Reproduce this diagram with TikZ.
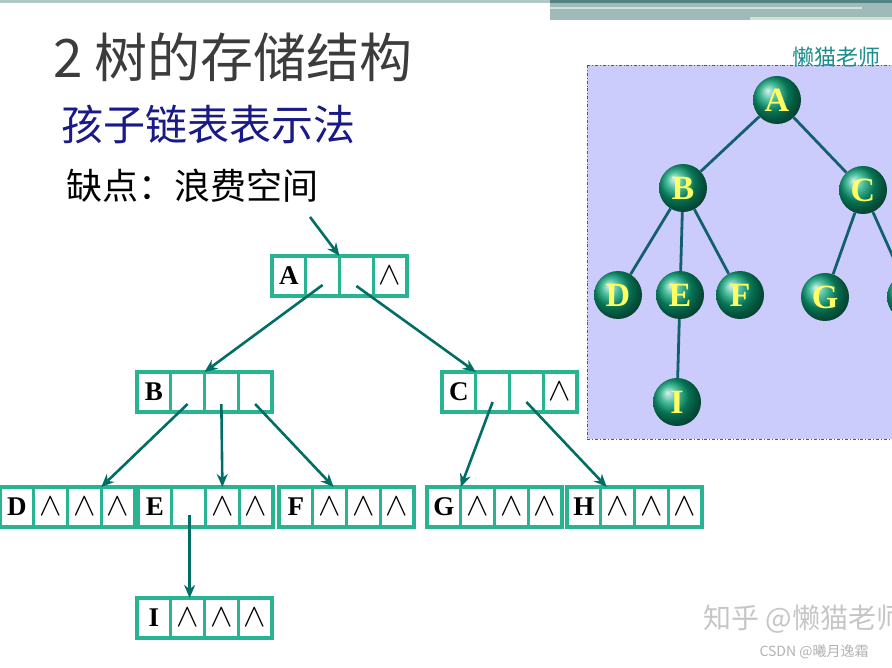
\documentclass[tikz,border=0pt]{standalone}
\usepackage{fontspec}
\setmainfont{Liberation Serif}
\newfontfamily\cjk{Noto Sans CJK SC}
\usepackage{xcolor}
\usepackage{tikz}
\usetikzlibrary{positioning,calc,arrows.meta,shadings}
\definecolor{cellgreen}{RGB}{40, 180, 145}
\definecolor{arrowteal}{RGB}{0, 110, 100}
\definecolor{edgeteal}{RGB}{20, 95, 110}
\definecolor{ballgreen}{RGB}{10, 165, 120}
\definecolor{panelblue}{RGB}{204, 204, 252}
\definecolor{titlegray}{RGB}{60, 60, 60}
\definecolor{subblue}{RGB}{25, 25, 135}
\definecolor{markteal}{RGB}{30, 140, 140}
\definecolor{bartop}{RGB}{85, 130, 130}
\definecolor{barmid}{RGB}{160, 185, 185}
\definecolor{barlight}{RGB}{205, 228, 212}

\tikzset{
  cell/.style={draw=cellgreen, line width=3.2pt, minimum width=33.75pt,
    minimum height=40pt, inner sep=0pt, outer sep=0pt, font=\fontsize{27}{27}\selectfont},
  link/.style={draw=arrowteal, line width=2.6pt, -{Stealth[length=13pt,width=11pt]}},
  ball/.style={circle, minimum size=48pt, inner sep=0pt, shading=ball, ball color=ballgreen,
    text={rgb,255:red,255;green,255;blue,100}, font=\fontsize{34}{34}\selectfont\bfseries},
  treeedge/.style={draw=edgeteal, line width=2.8pt},
}
\newcommand{\nul}{\scalebox{1.35}[1.3]{$\wedge$}}
\newcommand{\childrec}[6]{%
  \node[cell, anchor=north west] (#11) at (#2) {\bfseries #3};
  \node[cell, right=0pt of #11] (#12) {#4};
  \node[cell, right=0pt of #12] (#13) {#5};
  \node[cell, right=0pt of #13] (#14) {#6};
}

\begin{document}
\begin{tikzpicture}[x=1pt, y=-1pt]
    \useasboundingbox (0,0) rectangle (892,668);
    \clip (0,0) rectangle (892,668);

    %% top bar
    \fill[barmid!80] (0,0) rectangle (550,3);
    \fill[barmid] (550,0) rectangle (892,20);
    \fill[bartop] (550,0) rectangle (892,3);
    \fill[barlight] (550,7) rectangle (862,9.5);
    \fill[barlight] (750,17) rectangle (892,20);

    %% headings
    \node[anchor=west, text=titlegray, font=\cjk\fontsize{53}{53}\selectfont] (title) at (50,57) {2 树的存储结构};
    \node[anchor=west, text=subblue, font=\cjk\fontsize{42}{42}\selectfont] (sub) at (58,124) {孩子链表表示法};
    \node[anchor=west, font=\cjk\fontsize{36}{36}\selectfont] (flaw) at (63,186) {缺点：浪费空间};

    %% child records
    \childrec{A}{272,256}{A}{}{}{\nul}
    \childrec{B}{137,372}{B}{}{}{}
    \childrec{C}{442,372}{C}{}{}{\nul}
    \childrec{D}{0,487}{D}{\nul}{\nul}{\nul}
    \childrec{E}{138,487}{E}{}{\nul}{\nul}
    \childrec{F}{279,487}{F}{\nul}{\nul}{\nul}
    \childrec{G}{427,487}{G}{\nul}{\nul}{\nul}
    \childrec{H}{567,487}{H}{\nul}{\nul}{\nul}
    \childrec{I}{137,598}{I}{\nul}{\nul}{\nul}

    %% pointers
    \coordinate (head) at (310,217);
    \draw[link] (head) -- (A3.north west);
    \draw[link] ($(A2.center)+(0,9)$) -- (B3.north west);
    \draw[link] ($(A3.center)+(0,10)$) -- (C2.north west);
    \draw[link] ($(B2.center)+(0,12)$) -- (D4.north west);
    \draw[link] ($(B3.center)+(0,12)$) -- (E3.north);
    \draw[link] ($(B4.center)+(0,12)$) -- ($(F2.north)+(4,0)$);
    \draw[link] ($(C2.center)+(0,10)$) -- (G2.north west);
    \draw[link] ($(C3.center)+(0,10)$) -- ($(H2.north west)+(6,0)$);
    \draw[link] ($(E2.center)+(1,8)$) -- ($(I2.north)+(2,0)$);

    %% tree panel
    \fill[panelblue] (587,65) rectangle (905,439);
    \draw[gray!70!black, line width=0.8pt, dash dot] (587,65) rectangle (905,439);
    \node[anchor=south east, text=markteal, font=\cjk\fontsize{22}{22}\selectfont, inner sep=1pt] (mark) at (882,69) {懒猫老师};

    \node[ball] (tA) at (777,100) {A};
    \node[ball] (tB) at (683,188) {B};
    \node[ball] (tC) at (863,190) {C};
    \node[ball] (tD) at (618,295) {D};
    \node[ball] (tE) at (680,295) {E};
    \node[ball] (tF) at (740,295) {F};
    \node[ball] (tG) at (825,297) {G};
    \node[ball] (tH) at (911,297) {H};
    \node[ball] (tI) at (677,402) {I};
    \draw[treeedge] (tA) -- (tB);
    \draw[treeedge] (tA) -- (tC);
    \draw[treeedge] (tB) -- (tD);
    \draw[treeedge] (tB) -- (tE);
    \draw[treeedge] (tB) -- (tF);
    \draw[treeedge] (tC) -- (tG);
    \draw[treeedge] (tC) -- (tH);
    \draw[treeedge] (tE) -- (tI);

    %% watermarks
    \node[anchor=west, text=gray!45, font=\cjk\fontsize{28}{28}\selectfont] (zhihu) at (700,619) {知乎 @懒猫老师};
    \node[anchor=west, text=gray!60, font=\cjk\fontsize{14}{14}\selectfont] (csdn) at (756,652) {CSDN @曦月逸霜};
  \end{tikzpicture}
\end{document}
